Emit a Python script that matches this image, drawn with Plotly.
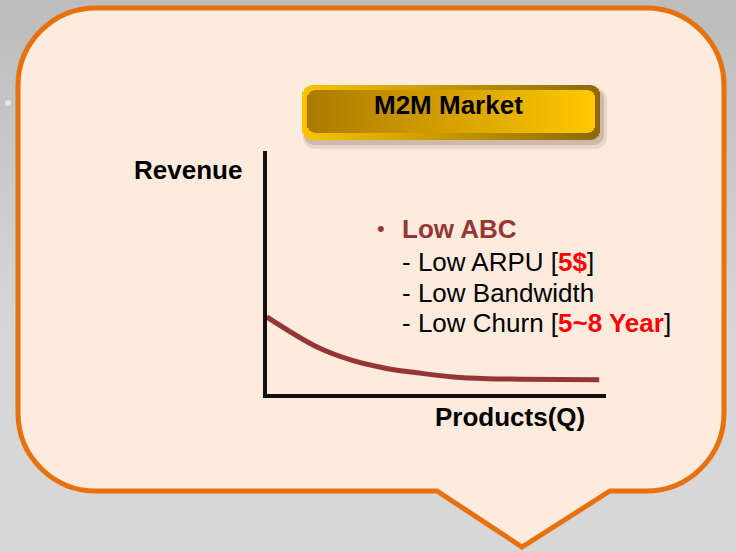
import plotly.graph_objects as go
import math

# ---------------- data ----------------
products_q = [0.0, 1.5, 2.5, 3.5, 4.5, 5.5, 6.5, 7.5, 9.8]
revenue = [3.18, 1.93, 1.40, 1.07, 0.87, 0.71, 0.64, 0.62, 0.60]
x_label = "Products(Q)"
y_label = "Revenue"
title_text = "M2M Market"
bullet_head = "Low ABC"
bullet_items = ["Low ARPU", "Low Bandwidth", "Low Churn"]
bullet_values = ["5$", None, "5~8 Year"]

# ---------------- helpers ----------------
W, H = 736, 552
FONT = "Arial, Liberation Sans, Helvetica, sans-serif"
FS = 26


def X(px):
    return px / W


def Y(py):
    return 1 - py / H


def P(x, y):
    return f"{X(x):.5f},{Y(y):.5f}"


K = 0.5523


def rr_path(x0, y0, x1, y1, r):
    c = r * K
    return (f"M {P(x0 + r, y0)} L {P(x1 - r, y0)} "
            f"C {P(x1 - r + c, y0)} {P(x1, y0 + r - c)} {P(x1, y0 + r)} "
            f"L {P(x1, y1 - r)} "
            f"C {P(x1, y1 - r + c)} {P(x1 - r + c, y1)} {P(x1 - r, y1)} "
            f"L {P(x0 + r, y1)} "
            f"C {P(x0 + r - c, y1)} {P(x0, y1 - r + c)} {P(x0, y1 - r)} "
            f"L {P(x0, y0 + r)} "
            f"C {P(x0, y0 + r - c)} {P(x0 + r - c, y0)} {P(x0 + r, y0)} Z")


def lerp(c1, c2, t):
    return tuple(round(a + (b - a) * t) for a, b in zip(c1, c2))


def rgb(c):
    return f"rgb({c[0]},{c[1]},{c[2]})"


shapes = []

# background gradient bands
nb = 46
for i in range(nb):
    y0 = i * H / nb
    y1 = (i + 1) * H / nb + 0.8
    ym = (y0 + y1) / 2
    t = min(ym / 330.0, 1.0)
    g = round(188 + (215 - 188) * t)
    shapes.append(dict(type="rect", xref="paper", yref="paper", layer="below",
                       x0=0, x1=1, y0=Y(y1), y1=Y(y0), line=dict(width=0),
                       fillcolor=f"rgb({g},{g},{g})"))
# little glint on the left
shapes.append(dict(type="circle", xref="paper", yref="paper", layer="below",
                   x0=X(5), x1=X(11), y0=Y(106), y1=Y(100), line=dict(width=0),
                   fillcolor="rgba(255,255,255,0.55)"))

# callout bubble
L_, R_, T_, B_, r_ = 18, 724, 8, 491, 78
c = r_ * K
callout = (f"M {P(L_ + r_, T_)} L {P(R_ - r_, T_)} "
           f"C {P(R_ - r_ + c, T_)} {P(R_, T_ + r_ - c)} {P(R_, T_ + r_)} "
           f"L {P(R_, B_ - r_)} "
           f"C {P(R_, B_ - r_ + c)} {P(R_ - r_ + c, B_)} {P(R_ - r_, B_)} "
           f"L {P(610, B_)} L {P(522, 547)} L {P(437, B_)} "
           f"L {P(L_ + r_, B_)} "
           f"C {P(L_ + r_ - c, B_)} {P(L_, B_ - r_ + c)} {P(L_, B_ - r_)} "
           f"L {P(L_, T_ + r_)} "
           f"C {P(L_, T_ + r_ - c)} {P(L_ + r_ - c, T_)} {P(L_ + r_, T_)} Z")
shapes.append(dict(type="path", xref="paper", yref="paper", layer="below",
                   path=callout, fillcolor="#FDEBDD",
                   line=dict(color="#E8710E", width=5)))

# title box shadow
shapes.append(dict(type="path", xref="paper", yref="paper", layer="below",
                   path=rr_path(303, 88, 607, 149, 12), fillcolor="rgba(60,40,20,0.10)",
                   line=dict(width=0)))
shapes.append(dict(type="path", xref="paper", yref="paper", layer="below",
                   path=rr_path(304, 89, 604, 145, 10), fillcolor="rgba(60,40,20,0.16)",
                   line=dict(width=0)))


def gradient_rr(x0, y0, x1, y1, r, cl, cr, step=2.0):
    n = int(math.ceil((x1 - x0) / step))
    for i in range(n):
        xa = x0 + i * step
        xb = min(xa + step, x1)
        xm = (xa + xb) / 2
        inset = 0.0
        if xm < x0 + r:
            d = x0 + r - xm
            inset = r - math.sqrt(max(r * r - d * d, 0))
        elif xm > x1 - r:
            d = xm - (x1 - r)
            inset = r - math.sqrt(max(r * r - d * d, 0))
        t = (xm - x0) / (x1 - x0)
        shapes.append(dict(type="rect", xref="paper", yref="paper", layer="below",
                           x0=X(xa), x1=X(min(xb + 0.7, x1)),
                           y0=Y(y1 - inset), y1=Y(y0 + inset),
                           line=dict(width=0), fillcolor=rgb(lerp(cl, cr, t))))


# title box rim and face
gradient_rr(302, 85, 600, 140, 11, (250, 196, 0), (140, 104, 0))
gradient_rr(307, 90, 595, 133, 9, (172, 122, 0), (255, 200, 0))

# ---------------- figure ----------------
fig = go.Figure()
fig.add_trace(go.Scatter(x=products_q, y=revenue, mode="lines",
                         line=dict(color="#963634", width=5, shape="spline", smoothing=1.0),
                         hoverinfo="skip", showlegend=False))

ax_common = dict(showgrid=False, zeroline=False, showticklabels=False, ticks="",
                 showline=True, linecolor="#111111", linewidth=3.5, fixedrange=True)
fig.update_xaxes(range=[0, 10], domain=[266.75 / W, 606 / W], **ax_common)
fig.update_yaxes(range=[0, 10], domain=[1 - 394.25 / H, 1 - 151 / H], **ax_common)

annotations = []


def ann(text, x, y, size=FS, color="#000000", xanchor="left", bold=False):
    t = f"<b>{text}</b>" if bold else text
    annotations.append(dict(text=t, x=X(x), y=Y(y), xref="paper", yref="paper",
                            xanchor=xanchor, yanchor="middle", showarrow=False,
                            font=dict(family=FONT, size=size, color=color)))


ann(title_text, 448, 104.5, xanchor="center", bold=True)
ann(y_label, 188, 170, xanchor="center", bold=True)
ann(x_label, 510, 417, xanchor="center", bold=True)
ann("•", 381, 229, size=22, color="#953735", xanchor="center")
ann(bullet_head, 400, 229, color="#953735", bold=True)
bl = [262, 293, 323]
for item, val, yb in zip(bullet_items, bullet_values, bl):
    if val:
        txt = f"- {item} [<b><span style='color:#FF0000'>{val}</span></b>]"
    else:
        txt = f"- {item}"
    ann(txt, 400, yb)

fig.update_layout(width=W, height=H, margin=dict(l=0, r=0, t=0, b=0),
                  paper_bgcolor="#D0D0D0", plot_bgcolor="rgba(0,0,0,0)",
                  shapes=shapes, annotations=annotations, showlegend=False)

fig.write_html("out.html", config={"displayModeBar": False})
